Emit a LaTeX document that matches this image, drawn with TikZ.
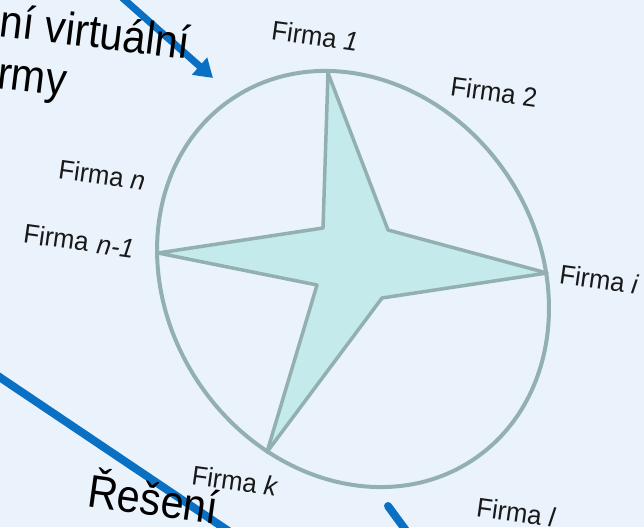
\documentclass[tikz,border=0pt]{standalone}
\usepackage{fontspec}
\setmainfont{Liberation Sans}
\usetikzlibrary{arrows.meta}
\definecolor{bg}{RGB}{234,243,251}
\definecolor{rim}{RGB}{147,176,176}
\definecolor{starfill}{RGB}{196,234,236}
\definecolor{arrowblue}{RGB}{10,112,196}
\begin{document}
\begin{tikzpicture}[x=1pt,y=-1pt,
  firm/.style={font=\fontsize{27}{32}\selectfont, rotate=-8, xscale=0.95, text=black!90, inner sep=0pt},
  big/.style={font=\fontsize{46}{54}\selectfont, rotate=-7, xscale=0.9, text=black, inner sep=0pt},
  flow/.style={draw=arrowblue, line width=8pt}]
\fill[bg] (0,0) rectangle (644,527);
\useasboundingbox (0,0) rectangle (644,527);
\clip (0,0) rectangle (644,527);
% blue flows
\coordinate (a1s) at (118,-6);
\coordinate (a1e) at (213,78);
\draw[flow, line width=7pt, -{Triangle[length=18pt,width=22pt]}] (a1s) -- (a1e);
\coordinate (a2s) at (-8,372);
\coordinate (a2e) at (230,532);
\draw[flow] (a2s) -- (a2e);
\coordinate (a3s) at (388,506);
\coordinate (a3e) at (410,536);
\draw[flow, line cap=round] (a3s) -- (a3e);
% rim
\draw[rim, line width=4pt, rotate around={33.5:(353,279)}] (353,279) ellipse [x radius=186, y radius=217];
% star
\coordinate (p1) at (328,73);
\coordinate (q1) at (388,230);
\coordinate (p2) at (547,273);
\coordinate (q2) at (382,298);
\coordinate (p3) at (267,452);
\coordinate (q3) at (317,285);
\coordinate (p4) at (158,253);
\coordinate (q4) at (323,228);
\filldraw[fill=starfill, draw=rim, line width=3.5pt, line join=round]
  (p1) -- (q1) -- (p2) -- (q2) -- (p3) -- (q3) -- (p4) -- (q4) -- cycle;
% labels
\node[firm] (f1) at (315,36) {Firma \textit{1}};
\node[firm] (f2) at (494,92) {Firma 2};
\node[firm] (fi) at (599,279) {Firma \textit{i}};
\node[firm] (fn) at (102,175) {Firma \textit{n}};
\node[firm] (fn1) at (79,241) {Firma\hspace{9pt}\textit{n-1}};
\node[firm] (fk) at (235,481) {Firma \textit{k}};
\node[firm] (fl) at (516,512) {Firma \textit{l}};
% big texts
\node[big, anchor=base west] (t1) at (-2,36) {ní virtuální};
\node[big, anchor=base west] (t2) at (-4,88) {rmy};
\node[big, anchor=base west, rotate=-1] (t3) at (86,506) {Řešení};
\end{tikzpicture}
\end{document}
